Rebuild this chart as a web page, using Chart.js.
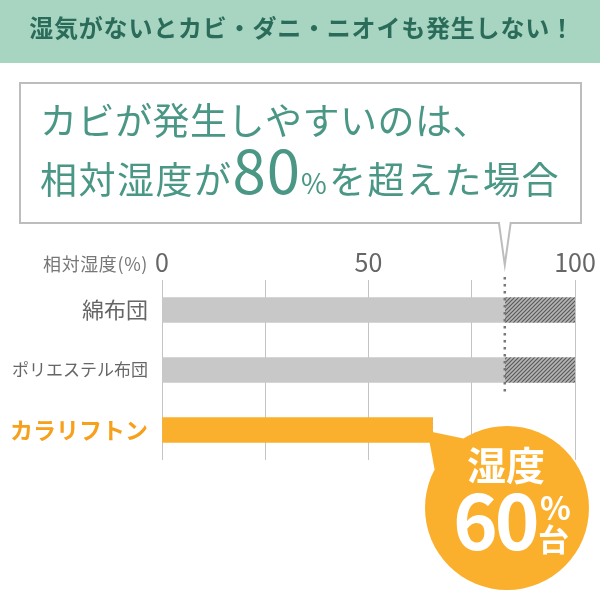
<!DOCTYPE html>
<html lang="ja">
<head>
<meta charset="utf-8">
<script src="https://cdn.jsdelivr.net/npm/chart.js@4"></script>
<style>
  html, body { margin: 0; padding: 0; background: #fff; }
  #wrap { width: 600px; height: 600px; }
</style>
</head>
<body>
<div id="wrap"><canvas id="myChart" width="600" height="600"></canvas></div>
<script>
// chart values
var categories = ["綿布団", "ポリエステル布団", "カラリフトン"];
var reachedValues = [83, 83, 65.5];   // solid part of each bar (%)
var overValues = [17, 17, 0];         // hatched part above the mold line
var moldLine = 83;                    // dotted line
var xTickLabels = [0, 50, 100];

var headerText = "湿気がないとカビ・ダニ・ニオイも発生しない！";
var axisTitle = "相対湿度(%)";
var badgeTop = "湿度";
var badgeNum = "60";

var FONT = "'Noto Sans CJK JP', 'Noto Sans', sans-serif";
var TEAL = "#4a9786";
var ORANGE = "#fbb02d";

Chart.defaults.font.family = FONT;

// hatch pattern for the part over the line
var pc = document.createElement("canvas");
pc.width = 4; pc.height = 4;
var p = pc.getContext("2d");
p.fillStyle = "#b5b5b5";
p.fillRect(0, 0, 4, 4);
p.strokeStyle = "#5a5a5a";
p.lineWidth = 1.2;
p.beginPath();
p.moveTo(0, 4); p.lineTo(4, 0);
p.moveTo(-1, 1); p.lineTo(1, -1);
p.moveTo(3, 5); p.lineTo(5, 3);
p.stroke();
var hatch = p.createPattern(pc, "repeat");

function drawParts(c, parts, x, y) {
  parts.forEach(function (pt) {
    c.font = pt.font;
    c.letterSpacing = (pt.ls || 0) + "px";
    c.fillText(pt.t, x, y + (pt.dy || 0));
    x += c.measureText(pt.t).width + (pt.gap || 0);
  });
  c.letterSpacing = "0px";
}

var decor = {
  id: "decor",
  beforeDraw: function (chart) {
    var c = chart.ctx;
    var tx = chart.scales.x.getPixelForValue(moldLine);
    c.save();
    // header band
    c.fillStyle = "#a7d5c1";
    c.fillRect(0, 0, 600, 63);
    c.fillStyle = "#2b6b5a";
    c.font = "bold 24px " + FONT;
    c.textAlign = "center";
    c.textBaseline = "middle";
    c.letterSpacing = "0.8px";
    c.fillText(headerText, 302, 28);
    c.letterSpacing = "0px";

    // callout box
    c.strokeStyle = "#bdbdbd";
    c.lineWidth = 2;
    c.strokeRect(20, 83, 561, 140);
    c.fillStyle = "#fff";
    c.beginPath();
    c.moveTo(tx - 6, 221); c.lineTo(tx, 265); c.lineTo(tx + 6, 221);
    c.closePath();
    c.fill();
    c.beginPath();
    c.moveTo(tx - 6, 222); c.lineTo(tx, 265); c.lineTo(tx + 6, 222);
    c.stroke();

    c.fillStyle = TEAL;
    c.textAlign = "left";
    c.textBaseline = "alphabetic";
    drawParts(c, [{ t: "カビが発生しやすいのは、", font: "37px " + FONT, ls: 0.5 }], 40, 135);
    drawParts(c, [
      { t: "相対湿度が", font: "37px " + FONT, ls: 1.5 },
      { t: "80", font: "60px " + FONT, ls: 1 },
      { t: "%", font: "28px " + FONT, gap: 2 },
      { t: "を超えた場合", font: "37px " + FONT, ls: 1.5 }
    ], 40, 194);

    // axis title
    c.fillStyle = "#777";
    c.font = "18px " + FONT;
    c.letterSpacing = "0.6px";
    c.textAlign = "right";
    c.textBaseline = "middle";
    c.fillText(axisTitle, 148, 264);
    c.letterSpacing = "0px";
    c.restore();
  },
  afterDatasetsDraw: function (chart) {
    var c = chart.ctx;
    var tx = chart.scales.x.getPixelForValue(moldLine);
    c.save();
    c.strokeStyle = "#777";
    c.lineWidth = 2.5;
    c.setLineDash([2.5, 4.5]);
    c.beginPath();
    c.moveTo(tx, 277);
    c.lineTo(tx, 393);
    c.stroke();
    c.restore();
  },
  afterDraw: function (chart) {
    var c = chart.ctx;
    var x = chart.scales.x, y = chart.scales.y;
    var tipX = x.getPixelForValue(reachedValues[2]) - 5;
    var tipY = y.getPixelForValue(2) + 1;
    var cx = 507, cy = 508, r = 82;
    c.save();
    c.fillStyle = ORANGE;
    c.beginPath();
    c.arc(cx, cy, r, 0, Math.PI * 2);
    c.fill();
    var a1 = 208 * Math.PI / 180, a2 = 238 * Math.PI / 180;
    c.beginPath();
    c.moveTo(cx + r * Math.cos(a1), cy + r * Math.sin(a1));
    c.lineTo(tipX, tipY);
    c.lineTo(cx + r * Math.cos(a2), cy + r * Math.sin(a2));
    c.closePath();
    c.fill();

    c.fillStyle = "#fff";
    c.textAlign = "center";
    c.textBaseline = "middle";
    c.font = "bold 39px " + FONT;
    c.fillText(badgeTop, 506, 465);
    c.textAlign = "left";
    c.textBaseline = "alphabetic";
    c.font = "bold 76px " + FONT;
    c.letterSpacing = "-3px";
    c.fillText(badgeNum, 453, 550);
    c.letterSpacing = "0px";
    c.font = "bold 32px " + FONT;
    c.fillText("%", 540, 520);
    c.font = "bold 31px " + FONT;
    c.fillText("台", 538, 551);
    c.restore();
  }
};

var ctx = document.getElementById("myChart").getContext("2d");
var chart = new Chart(ctx, {
  type: "bar",
  data: {
    labels: categories,
    datasets: [
      {
        data: reachedValues,
        backgroundColor: ["#c8c8c8", "#c8c8c8", ORANGE],
        barThickness: 25,
        stack: "s"
      },
      {
        data: overValues,
        backgroundColor: hatch,
        barThickness: 25,
        stack: "s"
      }
    ]
  },
  options: {
    indexAxis: "y",
    responsive: false,
    animation: false,
    layout: { padding: { top: 0, right: 25, bottom: 140, left: 0 } },
    plugins: { legend: { display: false }, tooltip: { enabled: false } },
    scales: {
      x: {
        position: "top",
        stacked: true,
        min: 0,
        max: 100,
        ticks: {
          stepSize: 25,
          padding: 3,
          color: "#666",
          font: { size: 25 },
          callback: function (v) { return xTickLabels.indexOf(v) >= 0 ? v : ""; }
        },
        grid: { color: "#c4c4c4", lineWidth: 1, drawTicks: false },
        border: { display: false },
        afterFit: function (s) { s.height = 280; }
      },
      y: {
        stacked: true,
        ticks: {
          padding: 14,
          color: function (c) { return c.index === 2 ? "#f6a01c" : "#666"; },
          font: function (c) {
            if (c.index === 2) return { size: 23, weight: "bold" };
            if (c.index === 1) return { size: 17 };
            return { size: 22 };
          }
        },
        grid: { display: false, drawTicks: false },
        border: { display: false },
        afterFit: function (s) { s.width = 162; }
      }
    }
  },
  plugins: [decor]
});
</script>
</body>
</html>
